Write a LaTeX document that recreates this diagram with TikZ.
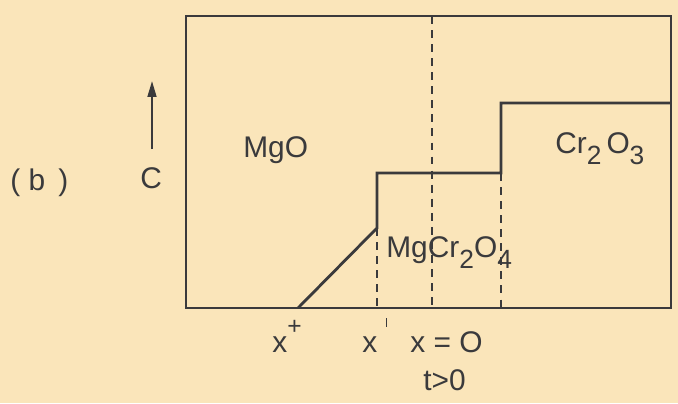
\documentclass[tikz,border=0pt]{standalone}
\usepackage{fontspec}
\setmainfont{Liberation Sans}
\usetikzlibrary{arrows.meta}
\definecolor{paper}{RGB}{250,229,186}
\definecolor{ink}{RGB}{58,58,60}
\newcommand{\lowsub}[1]{\raisebox{-0.75ex}{\fontsize{15}{15}\selectfont #1}}

\begin{document}
\begin{tikzpicture}[x=0.02cm, y=-0.02cm, font=\fontsize{17}{20}\selectfont,
    frame/.style={draw=ink, line width=1.6pt},
    guide/.style={draw=ink, line width=0.9pt, dash pattern=on 4.5pt off 3.5pt},
    lab/.style={text=ink, anchor=base west, inner sep=0pt}]
  \fill[paper] (0,0) rectangle (678,403);
  \useasboundingbox (0,0) rectangle (678,403);

  % box
  \draw[frame] (186,16) rectangle (671,308);

  % profile corners
  \coordinate (xplus) at (298,308);
  \coordinate (kink) at (377,228);
  \coordinate (lowstep) at (377,173);
  \coordinate (midstep) at (501,173);
  \coordinate (highstep) at (501,103);
  \coordinate (edge) at (671,103);
  \draw[frame, line join=miter] (xplus) -- (kink) -- (lowstep) -- (midstep) -- (highstep) -- (edge);

  % interfaces
  \coordinate (xprime) at (377,308);
  \coordinate (zerotop) at (432,16);
  \coordinate (zero) at (432,308);
  \coordinate (spinel) at (501,308);
  \draw[guide] (kink) -- (xprime);
  \draw[guide] (zerotop) -- (zero);
  \draw[guide] (midstep) -- (spinel);

  % concentration axis
  \coordinate (cfoot) at (152,149);
  \coordinate (ctip) at (152,81);
  \draw[ink, line width=1.1pt, -{Triangle[length=9pt, width=5pt]}] (cfoot) -- (ctip);

  % labels
  \node[lab] (part) at (10,190) {(\;b\;\,)};
  \node[lab] (conc) at (140,188) {C};
  \node[lab] (mgo) at (243,157) {MgO};
  \node[lab] (cro) at (555,153) {Cr\lowsub{2}\,O\lowsub{3}};
  \node[lab] (spin) at (386,257) {MgCr\lowsub{2}O\lowsub{4}};
  \node[lab] (lxplus) at (272,352) {x\raisebox{1.1ex}{\fontsize{14}{14}\selectfont +}};
  \node[lab] (lxprime) at (362,352) {x\;\raisebox{1.6ex}{\rule{0.9pt}{5pt}}};
  \node[lab] (lzero) at (410,352) {x = O};
  \node[lab] (time) at (423,390) {t>0};
\end{tikzpicture}
\end{document}
